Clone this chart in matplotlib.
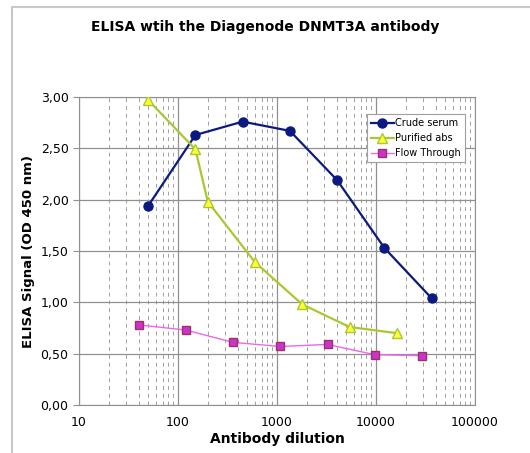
import numpy as np
import matplotlib.pyplot as plt
from matplotlib.ticker import FixedLocator, NullFormatter, FuncFormatter
from matplotlib.patches import Rectangle

crude_x = [50, 150, 450, 1350, 4050, 12150, 36450]
crude_y = [1.94, 2.63, 2.76, 2.67, 2.19, 1.53, 1.04]

purified_x = [50, 150, 200, 600, 1800, 5400, 16200]
purified_y = [2.97, 2.49, 1.98, 1.39, 0.98, 0.76, 0.70]

flow_x = [40, 120, 360, 1080, 3240, 9720, 29160]
flow_y = [0.78, 0.73, 0.61, 0.57, 0.59, 0.49, 0.48]

fig = plt.figure(figsize=(5.3, 4.53), dpi=100)
fig.patches.append(Rectangle((12/530, -0.1), 1.2, 1 - 7/453 + 0.1, transform=fig.transFigure,
                             fill=False, edgecolor='#c8c8c8', linewidth=1.5))

ax = fig.add_axes([79/530, 1 - 405/453, 396/530, 308/453])

ax.plot(crude_x, crude_y, color='#0a1a80', lw=1.6, marker='o', ms=6.5,
        mfc='#0a1a80', mec='#0a1a80', label='Crude serum', zorder=3)
ax.plot(purified_x, purified_y, color='#a8c832', lw=1.6, marker='^', ms=7.5,
        mfc='#ffff33', mec='#a8c832', label='Purified abs', zorder=3)
ax.plot(flow_x, flow_y, color='#ee66ee', lw=1.0, marker='s', ms=5.5,
        mfc='#cc33cc', mec='#993366', label='Flow Through', zorder=3)

ax.set_xscale('log')
ax.set_xlim(10, 100000)
ax.set_ylim(0, 3.0)

minors = [m * 10**d for d in range(1, 5) for m in range(2, 10)]
ax.xaxis.set_minor_locator(FixedLocator(minors))
ax.xaxis.set_minor_formatter(NullFormatter())
ax.xaxis.set_major_locator(FixedLocator([10, 100, 1000, 10000, 100000]))
ax.xaxis.set_major_formatter(FuncFormatter(lambda v, p: '%d' % v))
ax.set_yticks(np.arange(0, 3.01, 0.5))
ax.yaxis.set_major_formatter(FuncFormatter(lambda v, p: ('%.2f' % v).replace('.', ',')))

ax.grid(True, which='major', color='#909090', lw=0.9)
ax.grid(True, which='minor', axis='x', color='#a0a0a0', lw=0.7, ls=(0, (4, 4)))
for s in ax.spines.values():
    s.set_color('#909090')

ax.tick_params(axis='x', which='both', length=0, labelsize=9, pad=8)
ax.tick_params(axis='y', which='major', length=4, color='#909090', labelsize=9)

ax.set_xlabel('Antibody dilution', fontsize=10, fontweight='bold', labelpad=2)
ax.set_ylabel('ELISA Signal (OD 450 nm)', fontsize=9.5, fontweight='bold')
fig.text(0.5, 1 - 27/453, 'ELISA wtih the Diagenode DNMT3A antibody', ha='center',
         va='center', fontsize=10, fontweight='bold')

leg = ax.legend(loc='upper right', bbox_to_anchor=(0.98, 0.95), fontsize=7,
                frameon=True, fancybox=False, edgecolor='#a0a0a0', framealpha=1,
                handlelength=2.3, handletextpad=0.2, borderpad=0.4, labelspacing=0.5,
                borderaxespad=0.2)
leg.get_frame().set_linewidth(0.8)

fig.savefig('out.png', dpi=100)
